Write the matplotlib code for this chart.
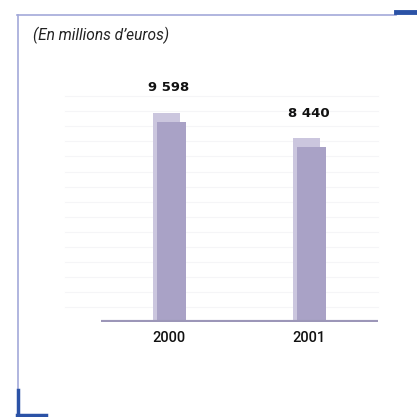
import matplotlib.pyplot as plt
from matplotlib.lines import Line2D

years = ['2000', '2001']
values = [9598, 8440]
labels = ['9 598', '8 440']

W = H = 417
fig = plt.figure(figsize=(4.17, 4.17), dpi=100)

def fx(px):
    return px / W

def fy(py):
    return 1 - py / H

# frame lines around the box
fig.add_artist(Line2D([fx(17), fx(396)], [fy(14.5), fy(14.5)], color='#a3a9d9', lw=1.2))
fig.add_artist(Line2D([fx(17.5), fx(17.5)], [fy(14.5), fy(392)], color='#a3a9d9', lw=1.2))
fig.add_artist(Line2D([fx(396), fx(417)], [fy(11.5), fy(11.5)], color='#2b52a6', lw=3.5))
fig.add_artist(Line2D([fx(18), fx(18)], [fy(390), fy(416)], color='#2b52a6', lw=2.5))
fig.add_artist(Line2D([fx(17), fx(46)], [fy(414.5), fy(414.5)], color='#2b52a6', lw=2.5))

fig.text(fx(33), fy(35), "(En millions d\u2019euros)", fontsize=11.2, style='italic',
         family=['Roboto', 'DejaVu Sans'], color='#222222', va='center', ha='left')

ax = fig.add_axes([fx(101), fy(322), fx(378) - fx(101), (322 - 60) / H])
ax.set_xlim(-0.486, 1.493)
ax.set_ylim(0, 12030)
ax.axis('off')

# faint background lines
for y in range(700, 10600, 690):
    ax.axhline(y, xmin=-0.13, xmax=1.0, color='#f5f5f7', lw=0.8, zorder=0, clip_on=False)

x = list(range(len(years)))
offset = 0.018
drop = 420
ax.bar([i - offset for i in x], values, width=0.193, color='#cbc6de', zorder=2)
ax.bar([i + offset for i in x], [v - drop for v in values], width=0.207, color='#a9a2c6', zorder=3)

ax.axhline(0, color='#9c96b8', lw=3, zorder=4)

for i, (v, lab) in enumerate(zip(values, labels)):
    ax.text(i, v + 850, lab, ha='center', va='bottom', fontsize=9.5, fontweight='heavy',
            family=['DejaVu Sans'], color='#111111')
    ax.text(i, -400, years[i], ha='center', va='top', fontsize=10.5, fontweight='medium',
            family=['Roboto', 'DejaVu Sans'], color='#111111')

fig.savefig('out.png', dpi=100)
